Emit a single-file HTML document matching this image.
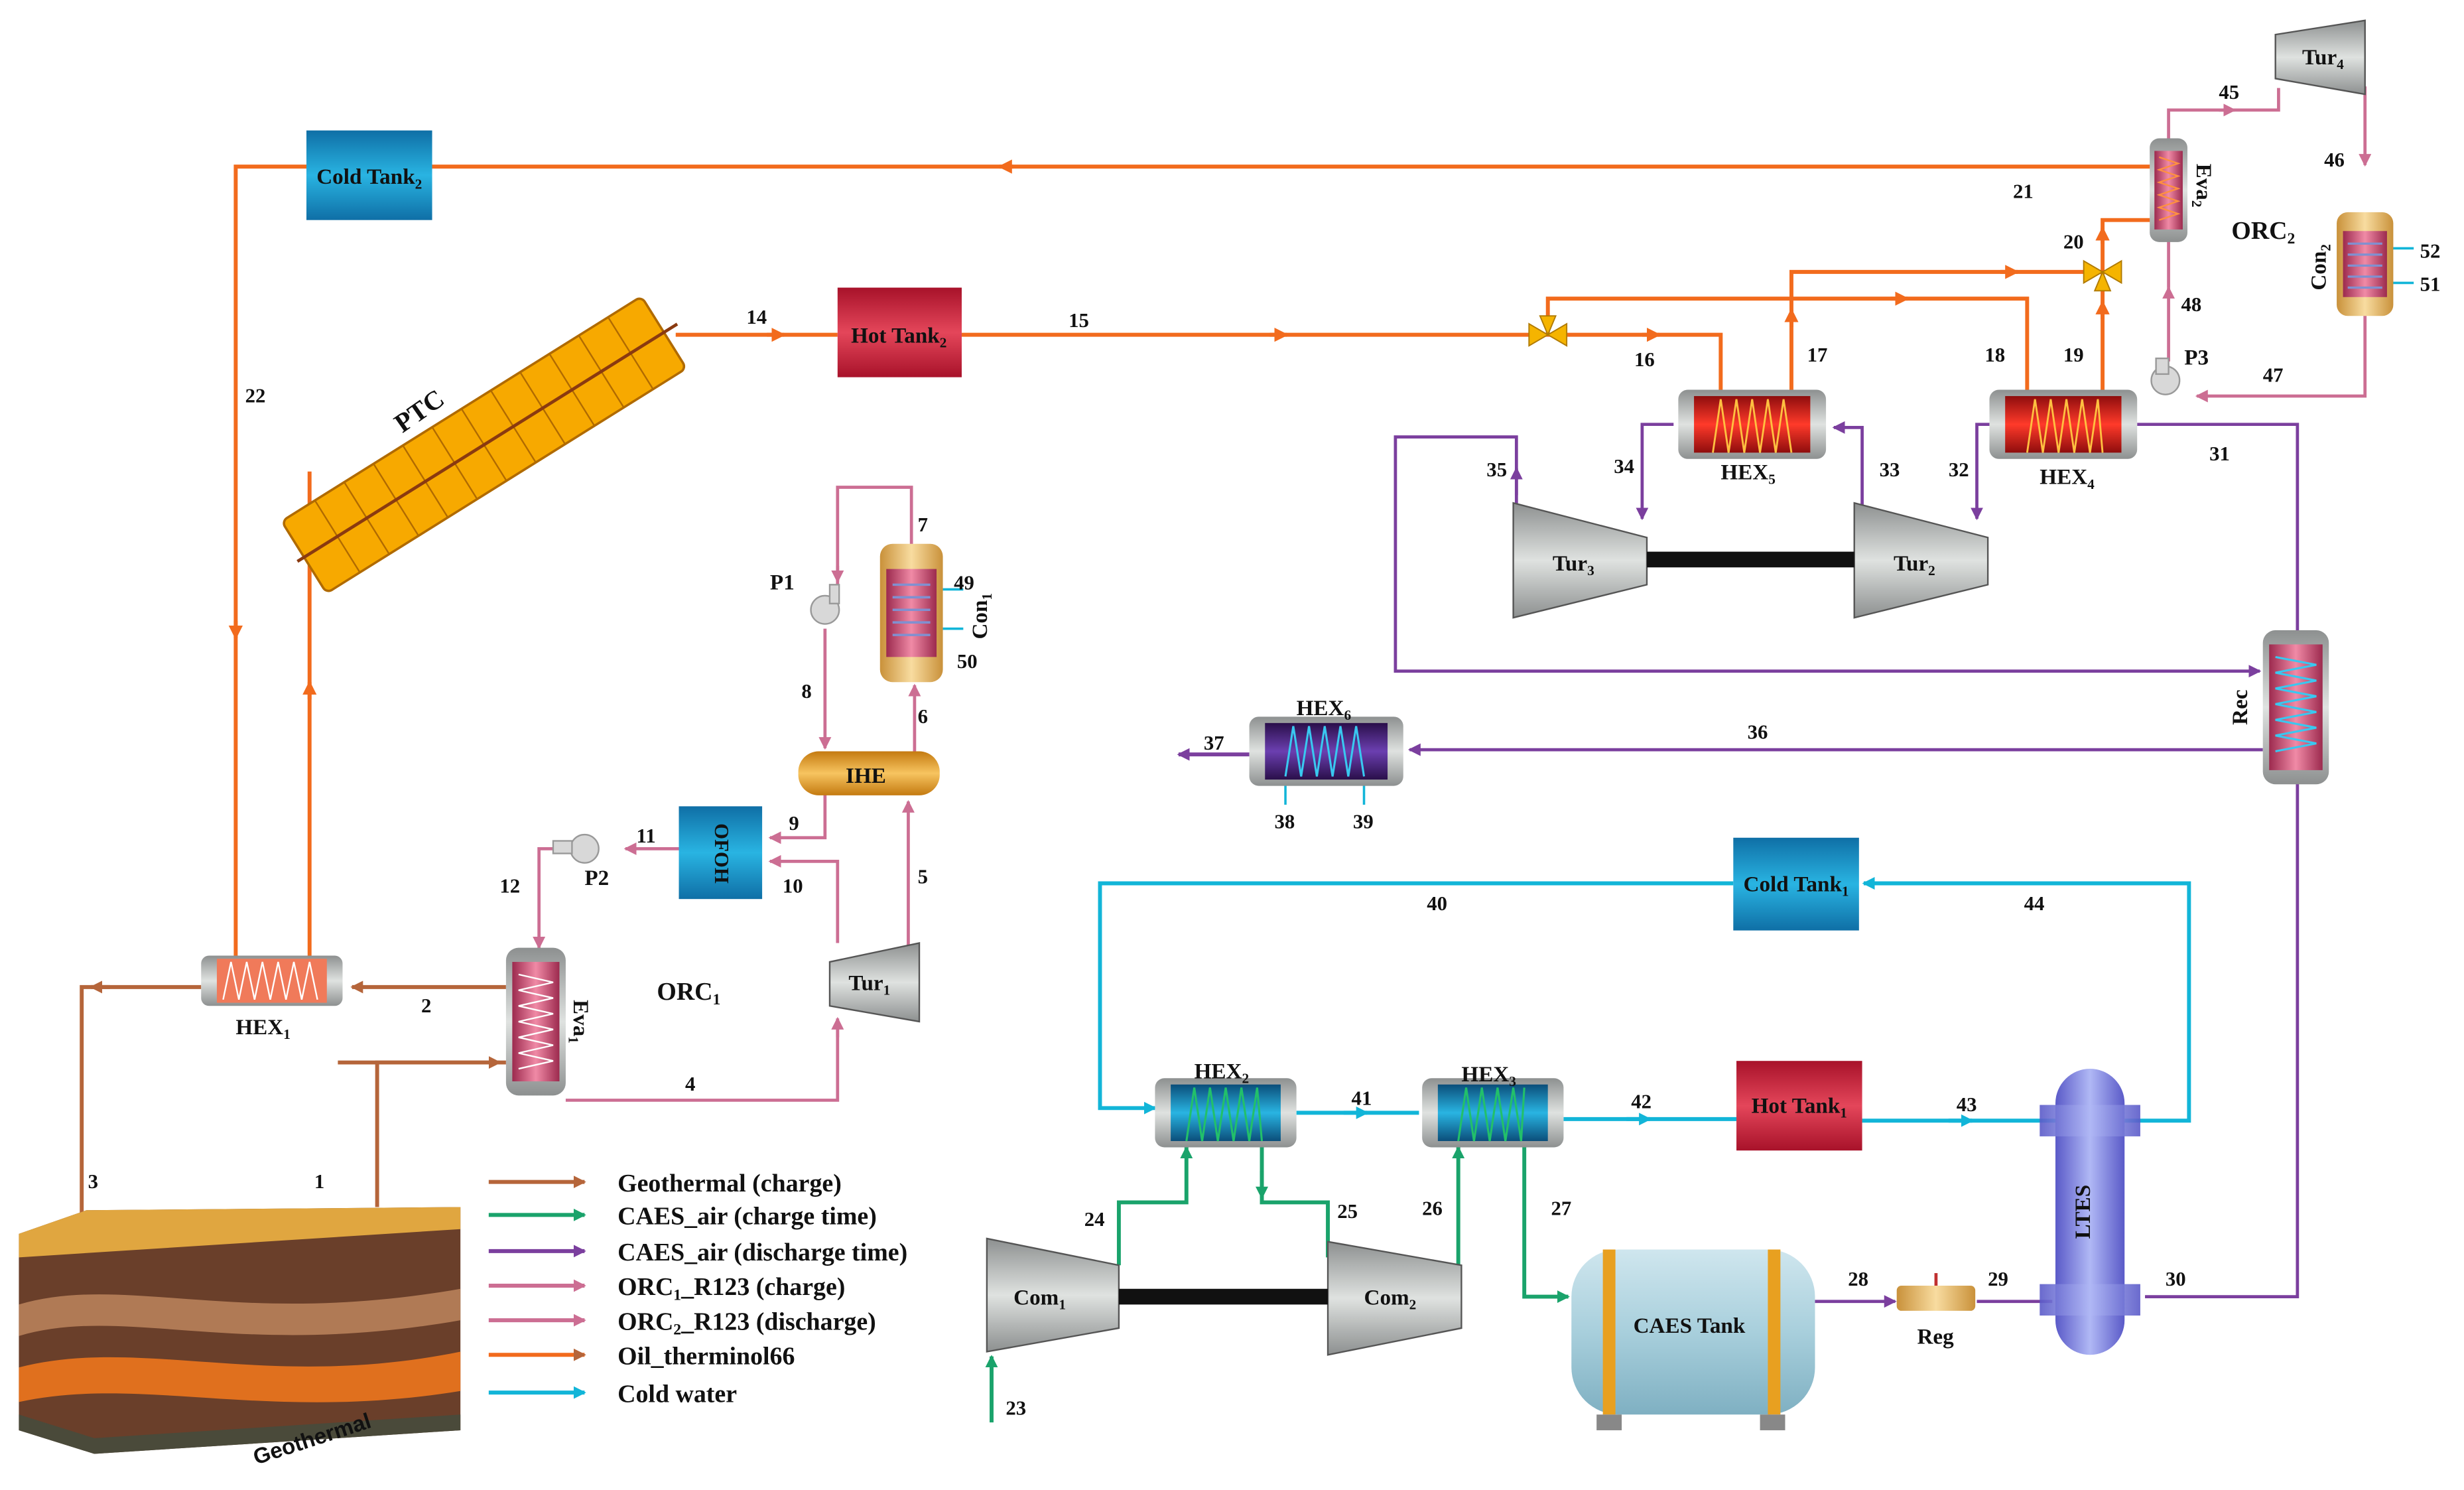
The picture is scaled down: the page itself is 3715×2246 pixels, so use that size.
<!DOCTYPE html>
<html><head><meta charset="utf-8"><style>
html,body{margin:0;padding:0;background:#fff}
svg{display:block}
text{font-family:"Liberation Serif",serif;font-weight:bold;fill:#111}
</style></head><body>
<svg width="3715" height="2246" viewBox="0 0 1568 948" preserveAspectRatio="none" xmlns="http://www.w3.org/2000/svg">
<defs>
<marker id="aO" markerWidth="9" markerHeight="9" refX="8" refY="4.5" orient="auto" markerUnits="userSpaceOnUse" viewBox="0 0 9 9"><path d="M0,0L9,4.5L0,9z" fill="#f26b1d"/></marker>
<marker id="aB" markerWidth="8" markerHeight="8" refX="7" refY="4" orient="auto" markerUnits="userSpaceOnUse" viewBox="0 0 8 8"><path d="M0,0L8,4L0,8z" fill="#b5653a"/></marker>
<marker id="aG" markerWidth="8" markerHeight="8" refX="7" refY="4" orient="auto" markerUnits="userSpaceOnUse" viewBox="0 0 8 8"><path d="M0,0L8,4L0,8z" fill="#1aa36b"/></marker>
<marker id="aP" markerWidth="8" markerHeight="8" refX="7" refY="4" orient="auto" markerUnits="userSpaceOnUse" viewBox="0 0 8 8"><path d="M0,0L8,4L0,8z" fill="#7b3f9e"/></marker>
<marker id="aK" markerWidth="8" markerHeight="8" refX="7" refY="4" orient="auto" markerUnits="userSpaceOnUse" viewBox="0 0 8 8"><path d="M0,0L8,4L0,8z" fill="#cc6e93"/></marker>
<marker id="aC" markerWidth="8" markerHeight="8" refX="7" refY="4" orient="auto" markerUnits="userSpaceOnUse" viewBox="0 0 8 8"><path d="M0,0L8,4L0,8z" fill="#12b5d8"/></marker>
<linearGradient id="gBlue" x1="0" x2="0" y1="0" y2="1"><stop offset="0" stop-color="#0f6fa6"/><stop offset=".5" stop-color="#29b4e2"/><stop offset="1" stop-color="#0f6fa6"/></linearGradient>
<linearGradient id="gRed" x1="0" x2="0" y1="0" y2="1"><stop offset="0" stop-color="#a8122a"/><stop offset=".5" stop-color="#e4465a"/><stop offset="1" stop-color="#a8122a"/></linearGradient>
<linearGradient id="gHex" x1="0" x2="0" y1="0" y2="1"><stop offset="0" stop-color="#8e0d0d"/><stop offset=".5" stop-color="#ff3a2a"/><stop offset="1" stop-color="#8e0d0d"/></linearGradient>
<linearGradient id="gCyanHx" x1="0" x2="0" y1="0" y2="1"><stop offset="0" stop-color="#0b4e7a"/><stop offset=".5" stop-color="#29b4e2"/><stop offset="1" stop-color="#0b4e7a"/></linearGradient>
<linearGradient id="gPur" x1="0" x2="0" y1="0" y2="1"><stop offset="0" stop-color="#2a0f4a"/><stop offset=".5" stop-color="#6b3fb0"/><stop offset="1" stop-color="#2a0f4a"/></linearGradient>
<linearGradient id="gPink" x1="0" x2="1"><stop offset="0" stop-color="#9c2a4e"/><stop offset=".5" stop-color="#f08aa6"/><stop offset="1" stop-color="#9c2a4e"/></linearGradient>
<linearGradient id="gTan" x1="0" x2="1"><stop offset="0" stop-color="#c9913a"/><stop offset=".5" stop-color="#f8dca0"/><stop offset="1" stop-color="#c9913a"/></linearGradient>
<linearGradient id="gGray" x1="0" x2="0" y1="0" y2="1"><stop offset="0" stop-color="#8d9090"/><stop offset=".5" stop-color="#dfe2e0"/><stop offset="1" stop-color="#8d9090"/></linearGradient>
<linearGradient id="gIHE" x1="0" x2="0" y1="0" y2="1"><stop offset="0" stop-color="#c47a10"/><stop offset=".5" stop-color="#f7c460"/><stop offset="1" stop-color="#c47a10"/></linearGradient>
<linearGradient id="gLTES" x1="0" x2="1"><stop offset="0" stop-color="#5a5ac8"/><stop offset=".5" stop-color="#b0b8f5"/><stop offset="1" stop-color="#5a5ac8"/></linearGradient>
<linearGradient id="gCAES" x1="0" x2="0" y1="0" y2="1"><stop offset="0" stop-color="#cfe6ee"/><stop offset=".5" stop-color="#a8cfdc"/><stop offset="1" stop-color="#7fb0c2"/></linearGradient>
</defs>

<g fill="none" stroke="#f26b1d" stroke-width="2.5">
<polyline points="1370,106 150,106 150,610"/>
<line x1="645" y1="106" x2="636" y2="106" marker-end="url(#aO)"/>
<line x1="150" y1="395" x2="150" y2="406" marker-end="url(#aO)"/>
<polyline points="197,608 197,300"/>
<line x1="197" y1="445" x2="197" y2="434" marker-end="url(#aO)"/>
<line x1="430" y1="213" x2="533" y2="213"/>
<line x1="488" y1="213" x2="499" y2="213" marker-end="url(#aO)"/>
<line x1="612" y1="213" x2="985" y2="213"/>
<line x1="808" y1="213" x2="819" y2="213" marker-end="url(#aO)"/>
<polyline points="985,213 1095,213 1095,252"/>
<line x1="1045" y1="213" x2="1056" y2="213" marker-end="url(#aO)"/>
<polyline points="985,213 985,190 1290,190 1290,252"/>
<line x1="1203" y1="190" x2="1214" y2="190" marker-end="url(#aO)"/>
<polyline points="1140,252 1140,173 1338,173"/>
<line x1="1140" y1="208" x2="1140" y2="197" marker-end="url(#aO)"/>
<line x1="1273" y1="173" x2="1284" y2="173" marker-end="url(#aO)"/>
<polyline points="1338,252 1338,140 1370,140"/>
<line x1="1338" y1="203" x2="1338" y2="192" marker-end="url(#aO)"/>
<line x1="1338" y1="155" x2="1338" y2="145" marker-end="url(#aO)"/>
</g>
<g fill="#f5b400" stroke="#b07a00" stroke-width=".8">
<path d="M973,206L985,213L973,220z M997,206L985,213L997,220z M980,201L985,213L990,201z"/>
<path d="M1326,166L1338,173L1326,180z M1350,166L1338,173L1350,180z M1333,185L1338,173L1343,185z"/>
</g>

<rect x="195" y="83" width="80" height="57" fill="url(#gBlue)"/>
<text x="235" y="117" font-size="14" text-anchor="middle">Cold Tank<tspan font-size="9" dy="3">2</tspan></text>
<rect x="533" y="183" width="79" height="57" fill="url(#gRed)"/>
<text x="572" y="218" font-size="14" text-anchor="middle">Hot Tank<tspan font-size="9" dy="3">2</tspan></text>

<g transform="translate(308,283) rotate(-32)">
<rect x="-135" y="-27" width="270" height="54" rx="4" fill="#f7a900" stroke="#b06a00" stroke-width="1.5"/>
<g stroke="#b06a00" stroke-width="1">
<line x1="-110" y1="-27" x2="-110" y2="27"/><line x1="-88" y1="-27" x2="-88" y2="27"/><line x1="-66" y1="-27" x2="-66" y2="27"/>
<line x1="-44" y1="-27" x2="-44" y2="27"/><line x1="-22" y1="-27" x2="-22" y2="27"/><line x1="0" y1="-27" x2="0" y2="27"/>
<line x1="22" y1="-27" x2="22" y2="27"/><line x1="44" y1="-27" x2="44" y2="27"/><line x1="66" y1="-27" x2="66" y2="27"/>
<line x1="88" y1="-27" x2="88" y2="27"/><line x1="110" y1="-27" x2="110" y2="27"/>
</g>
<line x1="-140" y1="0" x2="145" y2="0" stroke="#8a3a10" stroke-width="2"/>
</g>
<text x="270" y="266" font-size="17" transform="rotate(-35 270 266)" text-anchor="middle">PTC</text>

<g fill="none" stroke="#b5653a" stroke-width="2.5">
<polyline points="240,768 240,676 322,676"/>
<line x1="215" y1="676" x2="318" y2="676" marker-end="url(#aB)"/>
<line x1="322" y1="628" x2="224" y2="628" marker-end="url(#aB)"/>
<polyline points="128,628 52,628 52,785"/>
<line x1="70" y1="628" x2="58" y2="628" marker-end="url(#aB)"/>
</g>

<g fill="none" stroke="#cc6e93" stroke-width="2">
<polyline points="360,700 533,700 533,650" />
<line x1="533" y1="660" x2="533" y2="648" marker-end="url(#aK)"/>
<line x1="578" y1="602" x2="578" y2="510" marker-end="url(#aK)"/>
<line x1="582" y1="478" x2="582" y2="436" marker-end="url(#aK)"/>
<polyline points="580,348 580,310 533,310 533,375"/>
<line x1="533" y1="360" x2="533" y2="370" marker-end="url(#aK)"/>
<line x1="525" y1="400" x2="525" y2="476" marker-end="url(#aK)"/>
<polyline points="525,505 525,533 490,533" marker-end="url(#aK)"/>
<polyline points="533,600 533,548 490,548" marker-end="url(#aK)"/>
<line x1="432" y1="540" x2="398" y2="540" marker-end="url(#aK)"/>
<polyline points="358,540 343,540 343,603" marker-end="url(#aK)"/>
<polyline points="1380,90 1380,70 1450,70 1450,56"/>
<line x1="1412" y1="70" x2="1422" y2="70" marker-end="url(#aK)"/>
<polyline points="1505,55 1505,105" marker-end="url(#aK)"/>
<polyline points="1505,200 1505,252 1398,252" marker-end="url(#aK)"/>
<line x1="1380" y1="230" x2="1380" y2="183" marker-end="url(#aK)"/>
<line x1="1380" y1="183" x2="1380" y2="152"/>
</g>

<g fill="none" stroke="#7b3f9e" stroke-width="2">
<polyline points="1185,322 1185,272 1167,272" marker-end="url(#aP)"/>
<polyline points="1065,270 1045,270 1045,330" marker-end="url(#aP)"/>
<polyline points="965,322 965,278 888,278 888,427 1438,427" marker-end="url(#aP)"/>
<line x1="965" y1="315" x2="965" y2="298" marker-end="url(#aP)"/>
<polyline points="1268,270 1258,270 1258,330" marker-end="url(#aP)"/>
<polyline points="1360,270 1462,270 1462,403"/>
<line x1="1440" y1="477" x2="897" y2="477" marker-end="url(#aP)"/>
<line x1="795" y1="480" x2="750" y2="480" marker-end="url(#aP)" stroke-width="2.5"/>
<polyline points="1462,497 1462,825 1365,825"/>
<line x1="1155" y1="828" x2="1206" y2="828" marker-end="url(#aP)"/>
<line x1="1258" y1="828" x2="1306" y2="828"/>
</g>

<g fill="none" stroke="#12b5d8" stroke-width="2.5">
<polyline points="1103,562 700,562 700,705 735,705" marker-end="url(#aC)"/>
<line x1="825" y1="708" x2="903" y2="708"/>
<line x1="855" y1="708" x2="870" y2="708" marker-end="url(#aC)"/>
<line x1="995" y1="712" x2="1105" y2="712"/>
<line x1="1035" y1="712" x2="1050" y2="712" marker-end="url(#aC)"/>
<line x1="1185" y1="713" x2="1308" y2="713"/>
<line x1="1240" y1="713" x2="1255" y2="713" marker-end="url(#aC)"/>
<polyline points="1352,713 1393,713 1393,562 1186,562" marker-end="url(#aC)"/>
<line x1="818" y1="495" x2="818" y2="512" stroke-width="1.5"/>
<line x1="868" y1="495" x2="868" y2="512" stroke-width="1.5"/>
<line x1="600" y1="375" x2="613" y2="375" stroke-width="1.5"/>
<line x1="600" y1="400" x2="613" y2="400" stroke-width="1.5"/>
<line x1="1522" y1="158" x2="1536" y2="158" stroke-width="1.5"/>
<line x1="1522" y1="180" x2="1536" y2="180" stroke-width="1.5"/>
</g>

<g fill="none" stroke="#1aa36b" stroke-width="2.5">
<line x1="631" y1="905" x2="631" y2="863" marker-end="url(#aG)"/>
<polyline points="712,805 712,765 755,765 755,730" marker-end="url(#aG)"/>
<polyline points="803,728 803,765 845,765 845,800"/>
<line x1="803" y1="745" x2="803" y2="762" marker-end="url(#aG)"/>
<polyline points="928,805 928,730" marker-end="url(#aG)"/>
<polyline points="970,730 970,825 998,825" marker-end="url(#aG)"/>
</g>

<g>
<rect x="128" y="608" width="90" height="32" rx="5" fill="url(#gGray)"/>
<rect x="138" y="610" width="70" height="28" fill="#f07a5a"/>
<polyline points="142,636 147,612 152,636 157,612 162,636 167,612 172,636 177,612 182,636 187,612 192,636 197,612 202,636" fill="none" stroke="#fff" stroke-width="1"/>
<rect x="1068" y="248" width="94" height="44" rx="6" fill="url(#gGray)"/>
<rect x="1078" y="252" width="74" height="36" fill="url(#gHex)"/>
<polyline points="1090,288 1095,254 1100,288 1105,254 1110,288 1115,254 1120,288 1125,254 1130,288 1135,254 1140,288" fill="none" stroke="#ffc040" stroke-width="1.2"/>
<rect x="1266" y="248" width="94" height="44" rx="6" fill="url(#gGray)"/>
<rect x="1276" y="252" width="74" height="36" fill="url(#gHex)"/>
<polyline points="1290,288 1295,254 1300,288 1305,254 1310,288 1315,254 1320,288 1325,254 1330,288 1335,254 1338,288" fill="none" stroke="#ffc040" stroke-width="1.2"/>
<rect x="795" y="456" width="98" height="44" rx="6" fill="url(#gGray)"/>
<rect x="805" y="460" width="78" height="36" fill="url(#gPur)"/>
<polyline points="818,494 823,462 828,494 833,462 838,494 843,462 848,494 853,462 858,494 863,462 868,494" fill="none" stroke="#39c8f0" stroke-width="1.3"/>
<rect x="735" y="686" width="90" height="44" rx="6" fill="url(#gGray)"/>
<rect x="745" y="690" width="70" height="36" fill="url(#gCyanHx)"/>
<polyline points="755,726 760,692 765,726 770,692 775,726 780,692 785,726 790,692 795,726 800,692 803,726" fill="none" stroke="#22c06a" stroke-width="1.3"/>
<rect x="905" y="686" width="90" height="44" rx="6" fill="url(#gGray)"/>
<rect x="915" y="690" width="70" height="36" fill="url(#gCyanHx)"/>
<polyline points="928,726 933,692 938,726 943,692 948,726 953,692 958,726 963,692 968,726 970,692" fill="none" stroke="#22c06a" stroke-width="1.3"/>
</g>

<rect x="322" y="603" width="38" height="94" rx="8" fill="url(#gGray)"/>
<rect x="326" y="612" width="30" height="76" fill="url(#gPink)"/>
<polyline points="330,620 352,625 330,630 352,635 330,640 352,645 330,650 352,655 330,660 352,665 330,670 352,675 330,680" fill="none" stroke="#fff" stroke-width="1"/>
<rect x="1368" y="88" width="24" height="66" rx="6" fill="url(#gGray)"/>
<rect x="1371" y="96" width="18" height="50" fill="url(#gPink)"/>
<polyline points="1374,100 1386,104 1374,108 1386,112 1374,116 1386,120 1374,124 1386,128 1374,132 1386,136 1374,140" fill="none" stroke="#ff9040" stroke-width="1"/>
<rect x="1440" y="401" width="42" height="98" rx="8" fill="url(#gGray)"/>
<rect x="1444" y="410" width="34" height="80" fill="url(#gPink)"/>
<polyline points="1448,418 1474,423 1448,428 1474,433 1448,438 1474,443 1448,448 1474,453 1448,458 1474,463 1448,468 1474,473 1448,478" fill="none" stroke="#39c8f0" stroke-width="1.3"/>
<rect x="560" y="346" width="40" height="88" rx="8" fill="url(#gTan)"/>
<rect x="564" y="362" width="32" height="56" fill="url(#gPink)"/>
<path d="M568,372 h24 M568,380 h24 M568,388 h24 M568,396 h24 M568,404 h24" stroke="#8090d0" stroke-width="1.5"/>
<rect x="1487" y="135" width="36" height="66" rx="7" fill="url(#gTan)"/>
<rect x="1491" y="147" width="28" height="42" fill="url(#gPink)"/>
<path d="M1494,155 h22 M1494,162 h22 M1494,169 h22 M1494,176 h22 M1494,183 h22" stroke="#8090d0" stroke-width="1.4"/>
<rect x="508" y="478" width="90" height="28" rx="13" fill="url(#gIHE)"/>
<text x="551" y="498" font-size="14" text-anchor="middle">IHE</text>
<rect x="432" y="513" width="53" height="59" fill="url(#gBlue)"/>
<text x="459" y="543" font-size="13" text-anchor="middle" transform="rotate(90 459 543)" dy="4">OFOH</text>
<g fill="#d8d8d8" stroke="#999" stroke-width="1">
<circle cx="525" cy="388" r="9"/><rect x="528" y="372" width="6" height="12"/>
<circle cx="372" cy="540" r="9"/><rect x="352" y="535" width="12" height="8"/>
<circle cx="1378" cy="242" r="9"/><rect x="1372" y="228" width="8" height="10"/>
</g>
<g fill="url(#gGray)" stroke="#555" stroke-width="1">
<polygon points="528,612 585,600 585,650 528,640"/>
<polygon points="1448,22 1505,13 1505,60 1448,50"/>
<polygon points="963,320 1048,342 1048,372 963,393"/>
<polygon points="1180,320 1265,342 1265,372 1180,393"/>
<polygon points="628,788 712,805 712,845 628,860"/>
<polygon points="845,790 930,805 930,845 845,862"/>
</g>
<rect x="1048" y="351" width="132" height="10" fill="#111"/>
<rect x="712" y="820" width="133" height="10" fill="#111"/>
<rect x="1103" y="533" width="80" height="59" fill="url(#gBlue)"/>
<text x="1143" y="567" font-size="14" text-anchor="middle">Cold Tank<tspan font-size="9" dy="3">1</tspan></text>
<rect x="1105" y="675" width="80" height="57" fill="url(#gRed)"/>
<text x="1145" y="708" font-size="14" text-anchor="middle">Hot Tank<tspan font-size="9" dy="3">1</tspan></text>
<rect x="1308" y="680" width="44" height="182" rx="22" fill="url(#gLTES)"/>
<rect x="1298" y="703" width="64" height="20" fill="url(#gLTES)" opacity=".9"/>
<rect x="1298" y="817" width="64" height="20" fill="url(#gLTES)" opacity=".9"/>
<text x="1330" y="771" font-size="14" text-anchor="middle" transform="rotate(-90 1330 771)">LTES</text>
<rect x="1000" y="795" width="155" height="105" rx="30" fill="url(#gCAES)"/>
<rect x="1020" y="795" width="8" height="105" fill="#e8a020"/>
<rect x="1125" y="795" width="8" height="105" fill="#e8a020"/>
<rect x="1016" y="900" width="16" height="10" fill="#888"/><rect x="1120" y="900" width="16" height="10" fill="#888"/>
<text x="1075" y="848" font-size="14" text-anchor="middle">CAES Tank</text>
<rect x="1207" y="818" width="50" height="16" rx="3" fill="url(#gTan)"/>
<line x1="1232" y1="818" x2="1232" y2="810" stroke="#c03030" stroke-width="2"/>

<g>
<polygon points="12,785 55,770 293,768 293,910 60,925 12,910" fill="#6a3f2a"/>
<polygon points="12,785 55,770 293,768 293,782 12,800" fill="#e0a640"/>
<path d="M12,830 C80,810 150,845 293,820 L293,840 C150,865 80,830 12,850z" fill="#b07a55"/>
<path d="M12,870 C90,850 170,885 293,860 L293,885 C170,905 90,875 12,892z" fill="#e0701e"/>
<polygon points="12,900 60,915 293,900 293,910 60,925 12,910" fill="#4a4a3a"/>
</g>
<text x="200" y="920" font-size="14" text-anchor="middle" transform="rotate(-18 200 920)" style="font-family:'Liberation Sans',sans-serif">Geothermal</text>

<g stroke-width="2.5" fill="none">
<line x1="311" y1="752" x2="372" y2="752" stroke="#b5653a" marker-end="url(#aB)"/>
<line x1="311" y1="773" x2="372" y2="773" stroke="#1aa36b" marker-end="url(#aG)"/>
<line x1="311" y1="796" x2="372" y2="796" stroke="#7b3f9e" marker-end="url(#aP)"/>
<line x1="311" y1="818" x2="372" y2="818" stroke="#cc6e93" marker-end="url(#aK)"/>
<line x1="311" y1="840" x2="372" y2="840" stroke="#cc6e93" marker-end="url(#aK)"/>
<line x1="311" y1="862" x2="372" y2="862" stroke="#f26b1d" marker-end="url(#aB)"/>
<line x1="311" y1="886" x2="372" y2="886" stroke="#12b5d8" marker-end="url(#aC)"/>
</g>
<g font-size="16">
<text x="393" y="758">Geothermal (charge)</text>
<text x="393" y="779">CAES_air (charge time)</text>
<text x="393" y="802">CAES_air (discharge time)</text>
<text x="393" y="824">ORC<tspan font-size="10" dy="3">1</tspan><tspan dy="-3">_R123 (charge)</tspan></text>
<text x="393" y="846">ORC<tspan font-size="10" dy="3">2</tspan><tspan dy="-3">_R123 (discharge)</tspan></text>
<text x="393" y="868">Oil_therminol66</text>
<text x="393" y="892">Cold water</text>
</g>

<g font-size="14">
<text x="150" y="658">HEX<tspan font-size="9" dy="3">1</tspan></text>
<text x="1095" y="305">HEX<tspan font-size="9" dy="3">5</tspan></text>
<text x="1298" y="308">HEX<tspan font-size="9" dy="3">4</tspan></text>
<text x="825" y="455">HEX<tspan font-size="9" dy="3">6</tspan></text>
<text x="760" y="686">HEX<tspan font-size="9" dy="3">2</tspan></text>
<text x="930" y="688">HEX<tspan font-size="9" dy="3">3</tspan></text>
<text x="540" y="630">Tur<tspan font-size="9" dy="3">1</tspan></text>
<text x="1465" y="41">Tur<tspan font-size="9" dy="3">4</tspan></text>
<text x="988" y="363">Tur<tspan font-size="9" dy="3">3</tspan></text>
<text x="1205" y="363">Tur<tspan font-size="9" dy="3">2</tspan></text>
<text x="645" y="830">Com<tspan font-size="9" dy="3">1</tspan></text>
<text x="868" y="830">Com<tspan font-size="9" dy="3">2</tspan></text>
<text x="1220" y="855">Reg</text>
<text x="490" y="375">P1</text>
<text x="372" y="563">P2</text>
<text x="1390" y="232">P3</text>
<text x="418" y="636" font-size="16">ORC<tspan font-size="10" dy="3">1</tspan></text>
<text x="1420" y="152" font-size="16">ORC<tspan font-size="10" dy="3">2</tspan></text>
<text x="365" y="650" transform="rotate(90 365 650)" text-anchor="middle">Eva<tspan font-size="9" dy="3">1</tspan></text>
<text x="1398" y="118" transform="rotate(90 1398 118)" text-anchor="middle">Eva<tspan font-size="9" dy="3">2</tspan></text>
<text x="628" y="392" transform="rotate(-90 628 392)" text-anchor="middle">Con<tspan font-size="9" dy="3">1</tspan></text>
<text x="1480" y="170" transform="rotate(-90 1480 170)" text-anchor="middle">Con<tspan font-size="9" dy="3">2</tspan></text>
<text x="1430" y="450" transform="rotate(-90 1430 450)" text-anchor="middle">Rec</text>
</g>

<g font-size="13">
<text x="200" y="756">1</text><text x="268" y="644">2</text><text x="56" y="756">3</text><text x="436" y="694">4</text>
<text x="584" y="562">5</text><text x="584" y="460">6</text><text x="584" y="338">7</text><text x="510" y="444">8</text>
<text x="502" y="528">9</text><text x="498" y="568">10</text><text x="405" y="536">11</text><text x="318" y="568">12</text>
<text x="475" y="206">14</text><text x="680" y="208">15</text><text x="1040" y="233">16</text><text x="1150" y="230">17</text>
<text x="1263" y="230">18</text><text x="1313" y="230">19</text><text x="1313" y="158">20</text><text x="1281" y="126">21</text>
<text x="156" y="256">22</text><text x="640" y="900">23</text><text x="690" y="780">24</text><text x="851" y="775">25</text>
<text x="905" y="773">26</text><text x="987" y="773">27</text><text x="1176" y="818">28</text><text x="1265" y="818">29</text>
<text x="1378" y="818">30</text><text x="1406" y="293">31</text><text x="1240" y="303">32</text><text x="1196" y="303">33</text>
<text x="1027" y="301">34</text><text x="946" y="303">35</text><text x="1112" y="470">36</text><text x="766" y="477">37</text>
<text x="811" y="527">38</text><text x="861" y="527">39</text><text x="908" y="579">40</text><text x="860" y="703">41</text>
<text x="1038" y="705">42</text><text x="1245" y="707">43</text><text x="1288" y="579">44</text><text x="1412" y="63">45</text>
<text x="1479" y="106">46</text><text x="1440" y="243">47</text><text x="1388" y="198">48</text><text x="607" y="375">49</text>
<text x="609" y="425">50</text><text x="1540" y="185">51</text><text x="1540" y="164">52</text>
</g>
</svg>
</body></html>
